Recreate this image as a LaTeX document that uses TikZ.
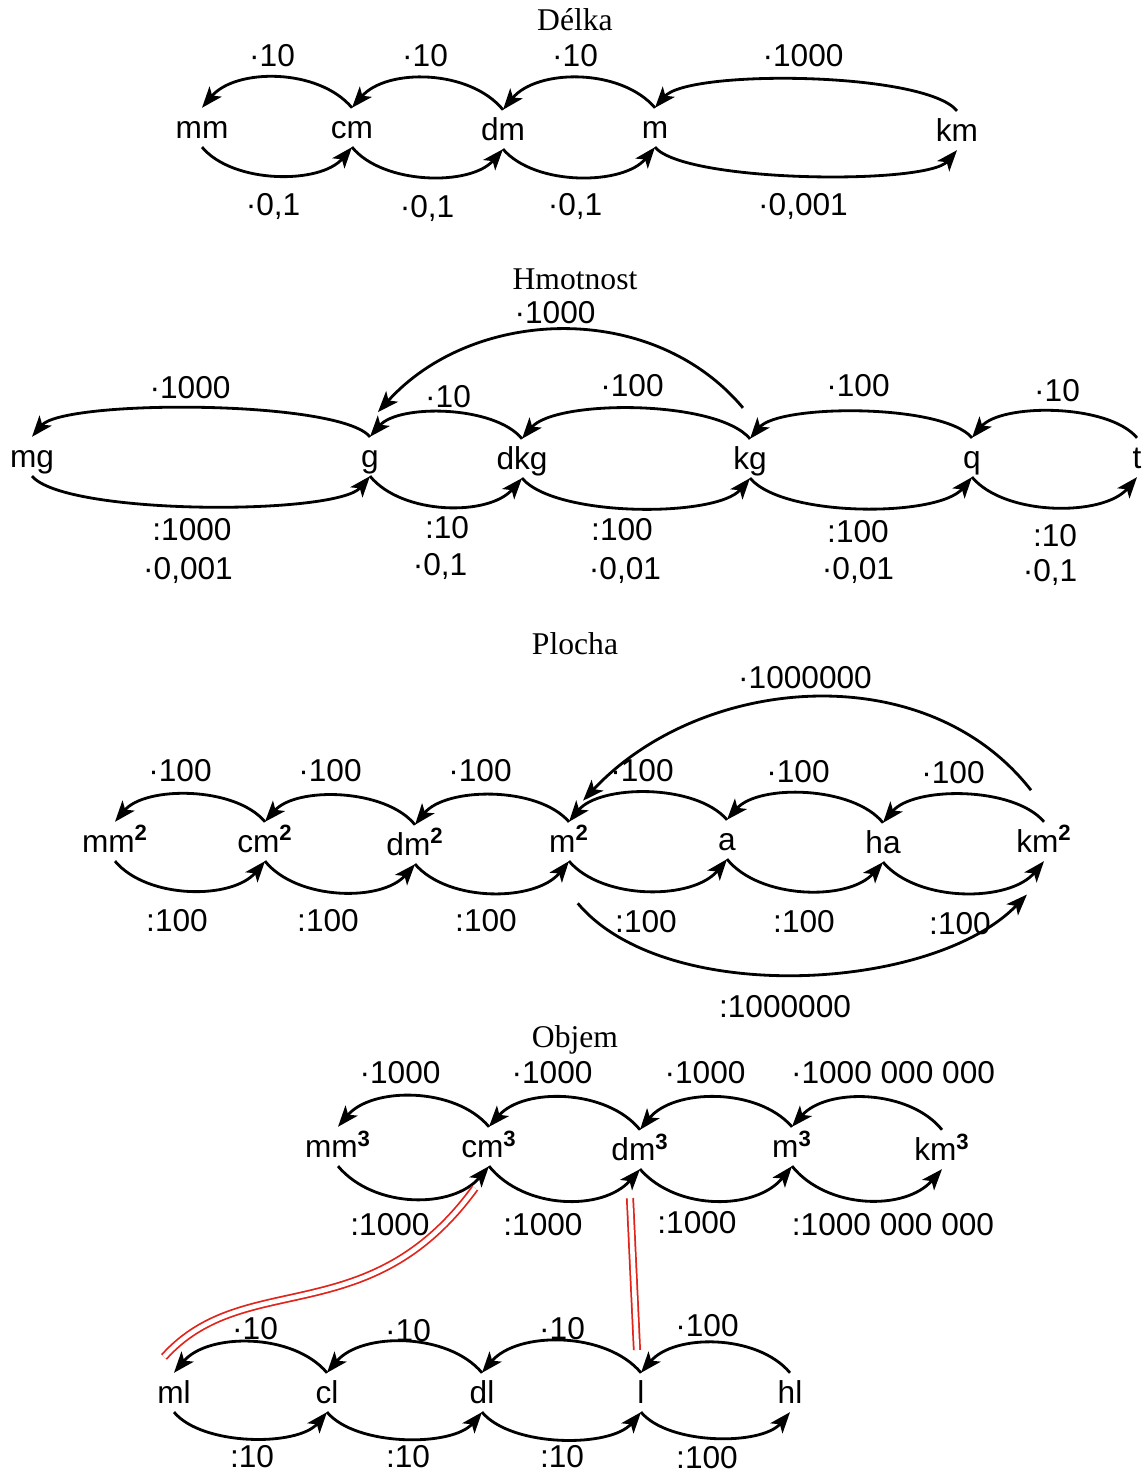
\documentclass[tikz,border=0pt]{standalone}
\usepackage{fontspec}
\setmainfont{Liberation Sans}
\newfontfamily\titlefont{Liberation Serif}
\definecolor{linkred}{HTML}{E2231A}
\usetikzlibrary{arrows.meta}
\newcommand{\unitfont}{\fontsize{18}{21}\selectfont}
\newcommand{\sq}{\textsuperscript{\textbf{2}}}
\newcommand{\cb}{\textsuperscript{\textbf{3}}}

\begin{document}
\begin{tikzpicture}[x=0.02cm, y=-0.02cm,
      unit/.style={font=\unitfont, anchor=base, inner sep=2pt,
                   text height=15pt, text depth=3pt},
      lab/.style={font=\unitfont, inner sep=0pt, text depth=0pt},
      title/.style={font=\titlefont\fontsize{18}{21}\selectfont},
      conv/.style={-{Stealth[length=12pt, width=9pt, inset=3pt]}, line width=1.6pt},
      hop/.style={bend right=50, looseness=#1},
      link/.style={draw=linkred, double=white, double distance=2.6pt, line width=1pt}]
      \useasboundingbox (0,0) rectangle (1145,1475);

      \node[title] (tdelka) at (575,20) {Délka};
      \node[unit] (mm) at (202,138) {mm};
      \node[unit] (cm) at (352,138) {cm};
      \node[unit] (dm) at (503,140) {dm};
      \node[unit] (m) at (655,138) {m};
      \node[unit] (km) at (957,141) {km};
      \foreach \a/\b/\lt/\lb in {mm/cm/0.89/0.83, cm/dm/0.89/0.83, dm/m/0.89/0.83, m/km/0.43/0.39} {
        \draw[conv] (\b.north) to[hop=\lt] (\a.north);
        \draw[conv] (\a.south) to[hop=\lb] (\b.south);
      }
      \foreach \x/\y/\t [count=\i] in {272/55/{·10}, 425/55/{·10}, 575/55/{·10}, 803/55/{·1000},
          273/204/{·0,1}, 427/206/{·0,1}, 575/204/{·0,1}, 803/204/{·0,001}}
        \node[lab] (ld\i) at (\x,\y) {\t};

      \node[title] (thmot) at (575,279) {Hmotnost};
      \node[unit] (mg) at (32,467) {mg};
      \node[unit] (g) at (370,467) {g};
      \node[unit] (dkg) at (522,469) {dkg};
      \node[unit] (kg) at (750,469) {kg};
      \node[unit] (q) at (972,468) {q};
      \node[unit] (t) at (1137,468) {t};
      \foreach \a/\b/\lt/\lb in {mg/g/0.37/0.39, g/dkg/0.73/0.85, dkg/kg/0.58/0.58, kg/q/0.52/0.6, q/t/0.7/0.8} {
        \draw[conv] (\b.north) to[hop=\lt] (\a.north);
        \draw[conv] (\a.south) to[hop=\lb] (\b.south);
      }
      \draw[conv] ([xshift=-4pt, yshift=17.6pt]kg.north) to[out=130, in=48, looseness=0.99]
        ([xshift=4.5pt, yshift=14pt]g.north);
      \foreach \x/\y/\t [count=\i] in {555/312/{·1000}, 190/387/{·1000}, 448/396/{·10}, 632/385/{·100},
          858/385/{·100}, 1057/390/{·10},
          192/529/{:1000}, 447/527/{:10}, 622/529/{:100}, 858/531/{:100}, 1055/535/{:10},
          188/568/{·0,001}, 440/564/{·0,1}, 625/568/{·0,01}, 858/568/{·0,01}, 1050/570/{·0,1}}
        \node[lab] (lh\i) at (\x,\y) {\t};

      \node[title] (tploch) at (575,644) {Plocha};
      \node[unit] (mm2) at (115,852) {mm\sq};
      \node[unit] (cm2) at (265,852) {cm\sq};
      \node[unit] (dm2) at (415,855) {dm\sq};
      \node[unit] (m2) at (569,852) {m\sq};
      \node[unit] (a) at (727,850) {a};
      \node[unit] (ha) at (883,853) {ha};
      \node[unit] (km2) at (1044,852) {km\sq};
      \foreach \a/\b/\lt/\lb in {mm2/cm2/0.8/0.86, cm2/dm2/0.8/0.86, dm2/m2/0.8/0.86,
          m2/a/0.78/0.85, a/ha/0.78/0.85, ha/km2/0.75/0.85} {
        \draw[conv] (\b.north) to[hop=\lt] (\a.north);
        \draw[conv] (\a.south) to[hop=\lb] (\b.south);
      }
      \draw[conv] ([xshift=-7.4pt, yshift=18pt]km2.north) to[out=128, in=47, looseness=0.98]
        ([xshift=8pt, yshift=12pt]m2.north);
      \draw[conv] ([xshift=5pt, yshift=-24pt]m2.south) to[out=-50, in=-134, looseness=0.77]
        ([xshift=-9.7pt, yshift=-19pt]km2.south);
      \foreach \x/\y/\t [count=\i] in {805/677/{·1000000}, 180/770/{·100}, 330/770/{·100}, 480/770/{·100},
          642/770/{·100}, 798/771/{·100}, 953/772/{·100},
          177/920/{:100}, 328/920/{:100}, 486/920/{:100}, 646/921/{:100}, 804/921/{:100}, 960/923/{:100},
          785/1006/{:1000000}}
        \node[lab] (lp\i) at (\x,\y) {\t};

      \node[title] (tobjem) at (575,1040) {Objem};
      \node[unit] (mm3) at (338,1157) {mm\cb};
      \node[unit] (cm3) at (489,1157) {cm\cb};
      \node[unit] (dm3) at (640,1160) {dm\cb};
      \node[unit] (m3) at (792,1157) {m\cb};
      \node[unit] (km3) at (942,1160) {km\cb};
      \foreach \a/\b in {mm3/cm3, cm3/dm3, dm3/m3, m3/km3} {
        \draw[conv] (\b.north) to[hop=0.89] (\a.north);
        \draw[conv] (\a.south) to[hop=0.95] (\b.south);
      }
      \node[unit] (ml) at (174,1403) {ml};
      \node[unit] (cl) at (327,1403) {cl};
      \node[unit] (dl) at (482,1403) {dl};
      \node[unit] (l) at (641,1403) {l};
      \node[unit] (hl) at (790,1403) {hl};
      \foreach \a/\b in {ml/cl, cl/dl, dl/l, l/hl} {
        \draw[conv] (\b.north) to[hop=0.88] (\a.north);
        \draw[conv] (\a.south) to[hop=0.75] (\b.south);
      }
      \draw[link] ([xshift=-8pt, yshift=-12.5pt]cm3.south)
        to[out=-126, in=48, out looseness=1.3, in looseness=0.87] ([xshift=-5.7pt, yshift=9pt]ml.north);
      \draw[link] ([xshift=-5.7pt, yshift=-16.5pt]dm3.south) -- ([xshift=-2.3pt, yshift=13pt]l.north);
      \foreach \x/\y/\t [count=\i] in {400/1072/{·1000}, 552/1072/{·1000}, 705/1072/{·1000},
          893/1072/{·1000 000 000}, 390/1224/{:1000}, 543/1224/{:1000}, 697/1222/{:1000},
          893/1224/{:1000 000 000},
          255/1328/{·10}, 408/1330/{·10}, 562/1328/{·10}, 707/1325/{·100},
          252/1456/{:10}, 408/1456/{:10}, 562/1456/{:10}, 707/1457/{:100}}
        \node[lab] (lo\i) at (\x,\y) {\t};
    \end{tikzpicture}
\end{document}
